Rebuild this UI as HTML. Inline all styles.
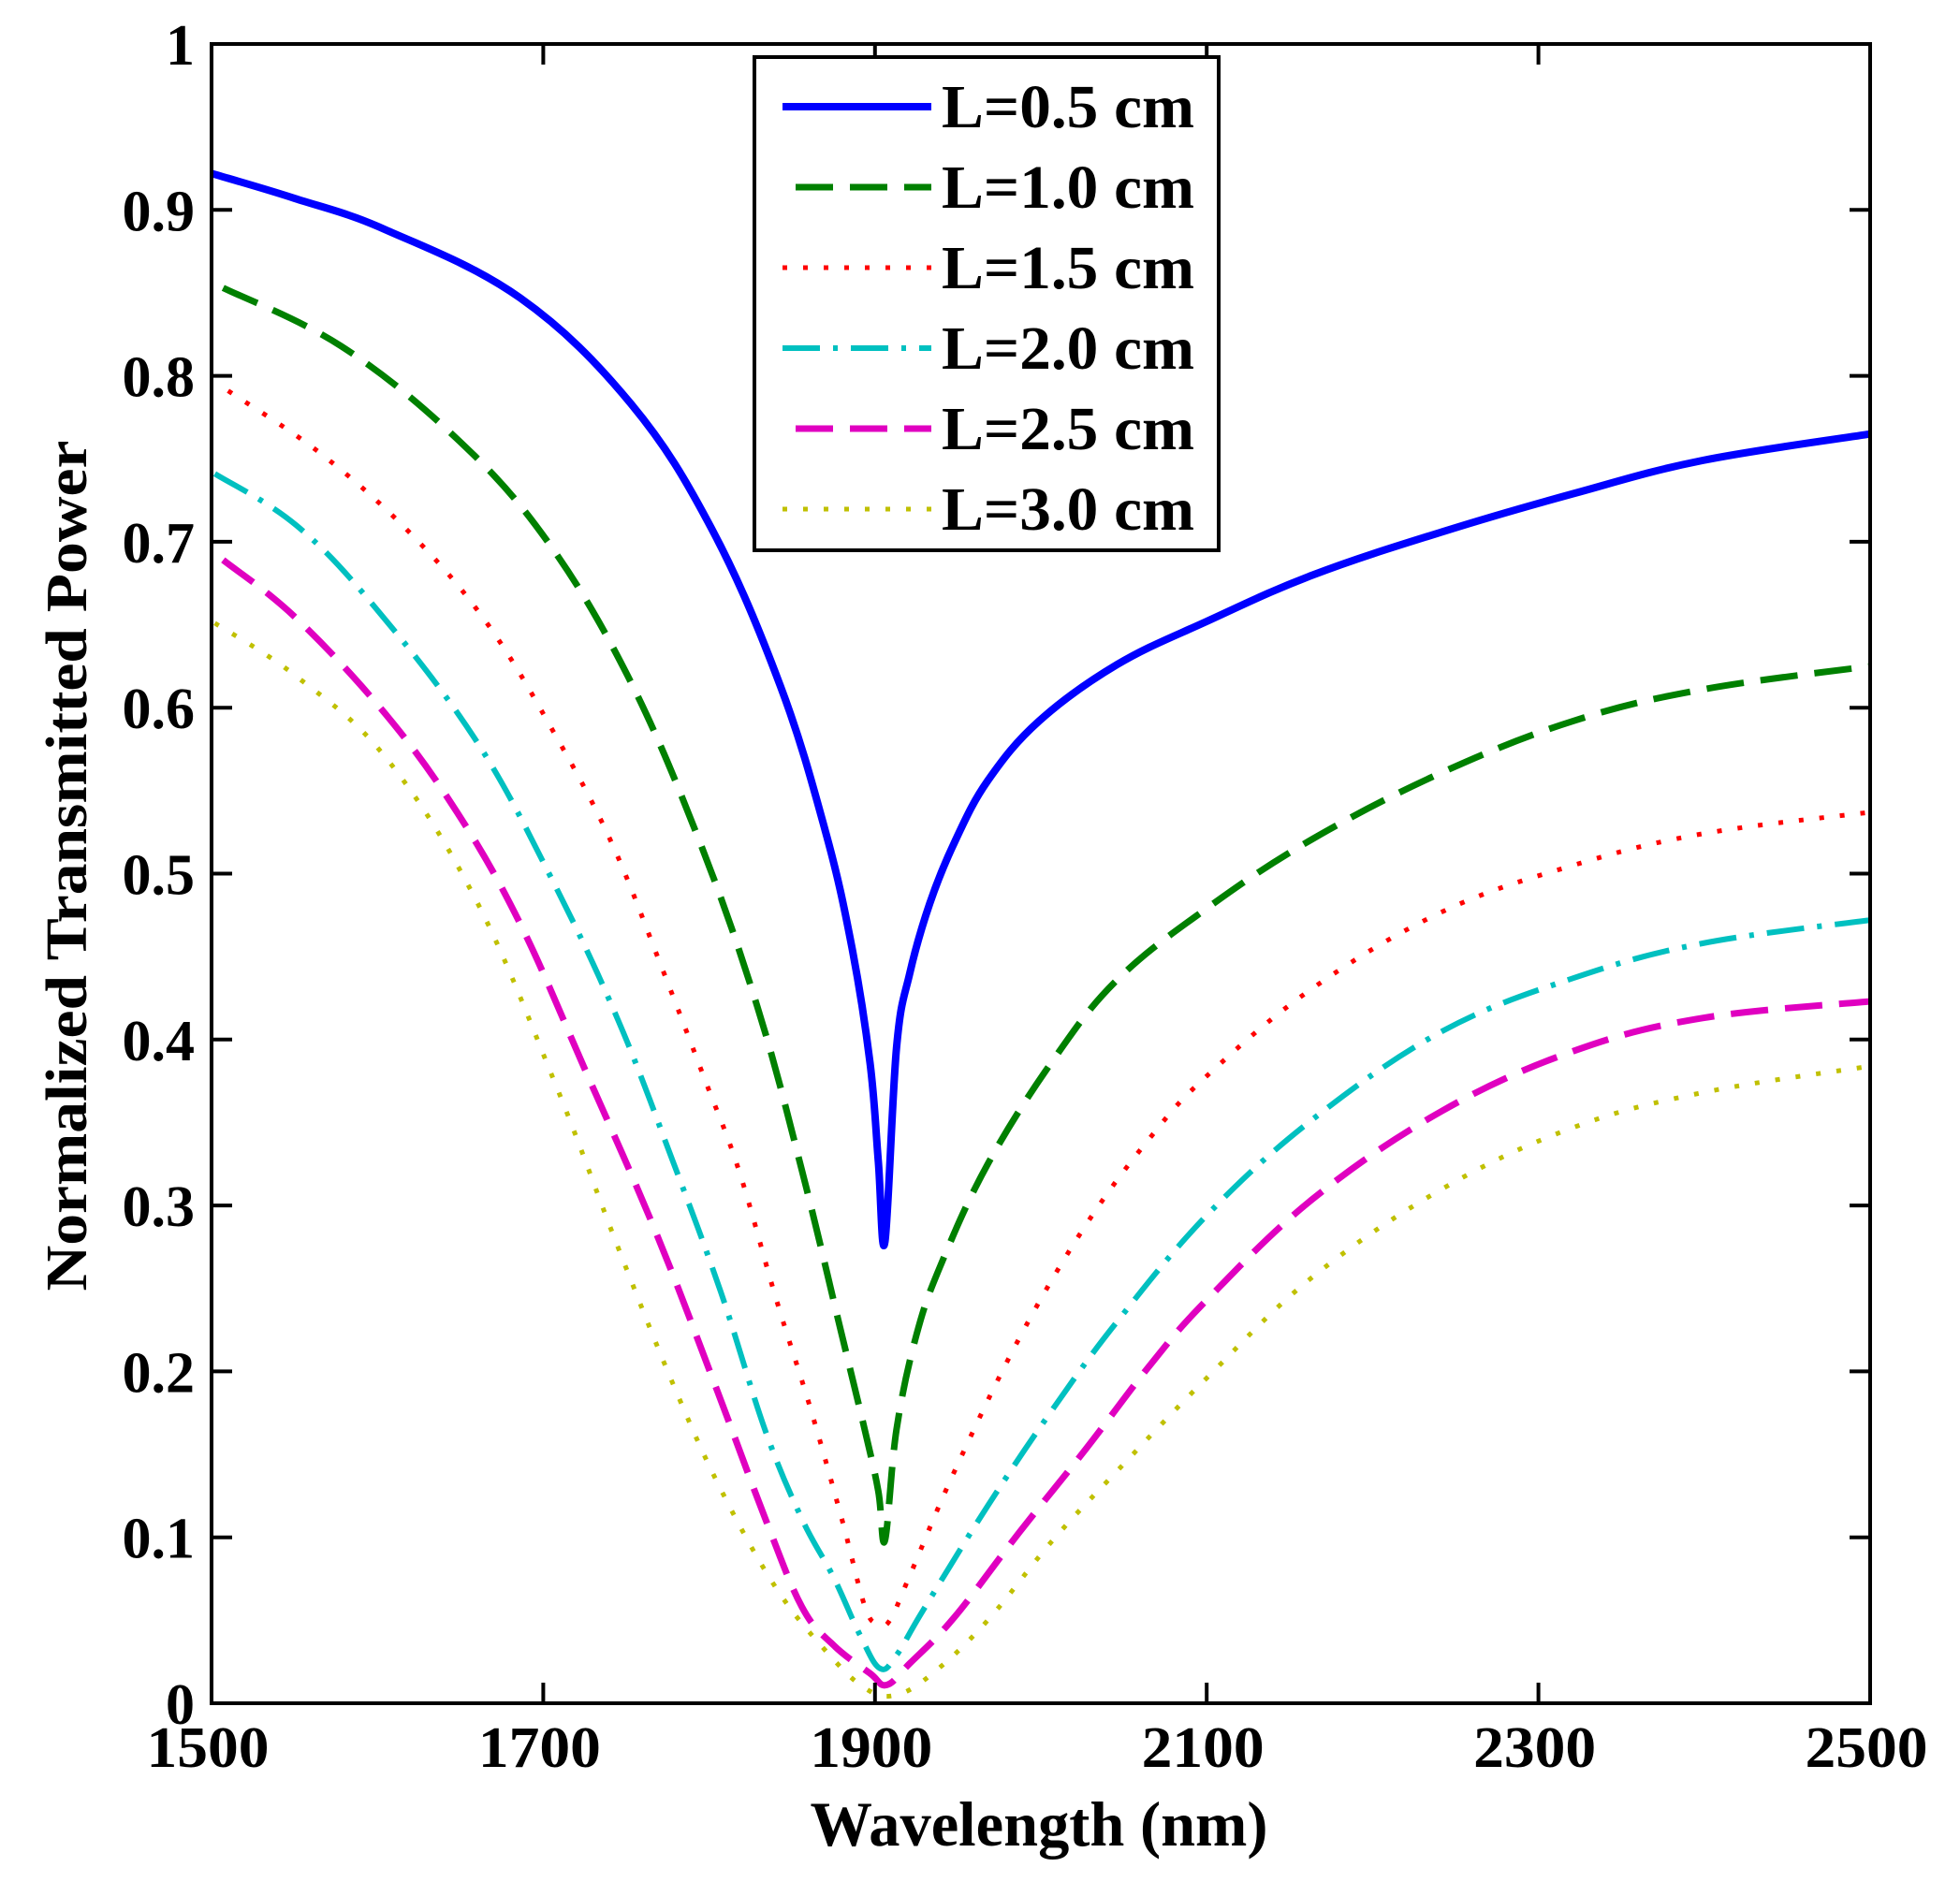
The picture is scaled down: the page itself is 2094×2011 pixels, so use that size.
<!DOCTYPE html>
<html><head><meta charset="utf-8"><style>
html,body{margin:0;padding:0;background:#fff;}
svg{display:block;}
text{font-family:"Liberation Serif",serif;fill:#000;}
</style></head><body>
<svg id="chart" width="2094" height="2011" viewBox="0 0 2094 2011" xmlns="http://www.w3.org/2000/svg">
<rect x="0" y="0" width="2094" height="2011" fill="#fff"/>
<g id="series"></g>
<g id="axes"></g>
<g id="legend"></g>
<text x="1110" y="1972" font-size="68" font-weight="bold" text-anchor="middle" textLength="489" lengthAdjust="spacingAndGlyphs">Wavelength (nm)</text>
<text transform="translate(92,925) rotate(-90)" x="0" y="0" font-size="62" font-weight="bold" text-anchor="middle" textLength="909" lengthAdjust="spacingAndGlyphs">Normalized Transmitted Power</text>
</svg>
<script>
const xTicks = [1500,1700,1900,2100,2300,2500];
const xTickLabels = ["1500","1700","1900","2100","2300","2500"];
const yTicks = [0,0.1,0.2,0.3,0.4,0.5,0.6,0.7,0.8,0.9,1];
const yTickLabels = ["0","0.1","0.2","0.3","0.4","0.5","0.6","0.7","0.8","0.9","1"];
const seriesNames = ["L=0.5 cm","L=1.0 cm","L=1.5 cm","L=2.0 cm","L=2.5 cm","L=3.0 cm"];

const wl05 = [1500,1550,1605,1686,1753,1802,1843,1870,1886,1897,1902,1906,1913,1921,1933,1948,1968,1999,2046,2100,2164,2242,2321,2399,2500];
const p05  = [0.922,0.907,0.888,0.847,0.783,0.707,0.613,0.526,0.456,0.386,0.327,0.278,0.395,0.440,0.482,0.519,0.556,0.592,0.626,0.652,0.680,0.706,0.729,0.749,0.765];
const wl10 = [1507,1578,1648,1702,1751,1794,1829,1856,1880,1894,1902,1906,1913,1925,1940,1968,2007,2046,2100,2164,2242,2321,2399,2500];
const p10  = [0.853,0.818,0.762,0.701,0.619,0.520,0.420,0.321,0.222,0.164,0.128,0.098,0.165,0.222,0.265,0.325,0.387,0.436,0.479,0.521,0.561,0.592,0.611,0.625];
const wl15 = [1510,1566,1620,1666,1707,1741,1772,1797,1818,1840,1861,1880,1894,1902,1909,1921,1948,1987,2027,2066,2100,2164,2242,2321,2399,2500];
const p15  = [0.791,0.753,0.705,0.651,0.584,0.519,0.442,0.377,0.321,0.245,0.178,0.111,0.058,0.048,0.050,0.077,0.140,0.220,0.288,0.341,0.378,0.431,0.477,0.505,0.524,0.537];
const wl20 = [1502,1551,1599,1659,1705,1745,1778,1807,1834,1856,1875,1891,1903,1913,1929,1968,2007,2046,2100,2164,2242,2321,2399,2500];
const p20  = [0.741,0.710,0.660,0.581,0.497,0.412,0.327,0.248,0.164,0.111,0.076,0.041,0.021,0.029,0.056,0.119,0.177,0.230,0.294,0.352,0.405,0.437,0.458,0.472];
const wl25 = [1507,1551,1605,1648,1686,1726,1767,1802,1834,1856,1875,1897,1907,1921,1948,1987,2027,2066,2100,2164,2242,2321,2399,2500];
const p25  = [0.689,0.654,0.596,0.537,0.470,0.380,0.286,0.196,0.111,0.058,0.035,0.018,0.011,0.024,0.052,0.103,0.153,0.204,0.243,0.304,0.357,0.393,0.413,0.423];
const wl30 = [1502,1551,1605,1659,1707,1745,1778,1807,1840,1870,1894,1913,1936,1968,2007,2046,2100,2164,2242,2321,2399,2500];
const p30  = [0.651,0.619,0.570,0.485,0.374,0.275,0.193,0.129,0.070,0.032,0.009,0.005,0.019,0.050,0.098,0.140,0.196,0.257,0.310,0.347,0.368,0.384];

const NS="http://www.w3.org/2000/svg";
const X0=226,X1=1998,Y0=47,Y1=1820;
function xs(v){return X0+(v-1500)/(2500-1500)*(X1-X0);}
function ys(v){return Y1-(v-0)/(1-0)*(Y1-Y0);}
function mk(tag,attrs,parent){const e=document.createElementNS(NS,tag);for(const k in attrs)e.setAttribute(k,attrs[k]);parent.appendChild(e);return e;}

const styles=[
 {c:"#0000ff",w:8,d:""},
 {c:"#008000",w:7,d:"40 18"},
 {c:"#ff0000",w:5,d:"5 17"},
 {c:"#00c0c0",w:6,d:"40 14 5 14"},
 {c:"#e000c0",w:7,d:"40 18"},
 {c:"#c0c000",w:5,d:"5 17"}
];
const allWl=[wl05,wl10,wl15,wl20,wl25,wl30];
const allP=[p05,p10,p15,p20,p25,p30];
const sg=document.getElementById('series');
function pathFor(wl,p){
  const pts=wl.map((w,i)=>[xs(w),ys(p[i])]);
  let d="M"+pts[0][0].toFixed(1)+","+pts[0][1].toFixed(1);
  for(let i=0;i<pts.length-1;i++){
    const p0=pts[Math.max(0,i-1)],p1=pts[i],p2=pts[i+1],p3=pts[Math.min(pts.length-1,i+2)];
    const t=0.18;
    const c1=[p1[0]+(p2[0]-p0[0])*t,p1[1]+(p2[1]-p0[1])*t];
    const c2=[p2[0]-(p3[0]-p1[0])*t,p2[1]-(p3[1]-p1[1])*t];
    d+=" C"+c1[0].toFixed(1)+","+c1[1].toFixed(1)+" "+c2[0].toFixed(1)+","+c2[1].toFixed(1)+" "+p2[0].toFixed(1)+","+p2[1].toFixed(1);
  }
  return d;
}
for(let s=0;s<6;s++){
  const el=mk('path',{d:pathFor(allWl[s],allP[s]),fill:"none",stroke:styles[s].c,"stroke-width":styles[s].w,"stroke-dasharray":styles[s].d,"stroke-linejoin":"round"},sg);
  
  
}

const ag=document.getElementById('axes');
const box=mk('rect',{x:X0,y:Y0,width:X1-X0,height:Y1-Y0,fill:"none",stroke:"#000","stroke-width":4},ag);


xTicks.forEach((v,i)=>{
  const x=xs(v);
  const t1=mk('line',{x1:x,y1:Y1,x2:x,y2:Y1-22,stroke:"#000","stroke-width":4},ag);
  
  
  const t2=mk('line',{x1:x,y1:Y0,x2:x,y2:Y0+22,stroke:"#000","stroke-width":4},ag);
  
  
  const lb=mk('text',{x:x-4,y:1888,"font-size":62,"font-weight":"bold","text-anchor":"middle",textLength:131,lengthAdjust:"spacingAndGlyphs"},ag);
  lb.textContent=xTickLabels[i];
  
  
});
yTicks.forEach((v,i)=>{
  const y=ys(v);
  const t1=mk('line',{x1:X0,y1:y,x2:X0+22,y2:y,stroke:"#000","stroke-width":4},ag);
  
  
  const t2=mk('line',{x1:X1,y1:y,x2:X1-22,y2:y,stroke:"#000","stroke-width":4},ag);
  
  
  const lb=mk('text',{x:208,y:y+22,"font-size":62,"font-weight":"bold","text-anchor":"end"},ag);
  lb.textContent=yTickLabels[i];
  
  
});

const lg=document.getElementById('legend');
const lbox=mk('rect',{x:806,y:61,width:496,height:527,fill:"#fff",stroke:"#000","stroke-width":4},lg);


for(let s=0;s<6;s++){
  const y=114+s*86;
  const ln=mk('line',{x1:(s==1||s==4)?850:836,y1:y,x2:995,y2:y,stroke:styles[s].c,"stroke-width":styles[s].w,"stroke-dasharray":styles[s].d},lg);
  
  
  const tx=mk('text',{x:1006,y:y+22,"font-size":66,"font-weight":"bold",textLength:270,lengthAdjust:"spacingAndGlyphs"},lg);
  tx.textContent=seriesNames[s];
  
  
}
</script>
</body></html>
